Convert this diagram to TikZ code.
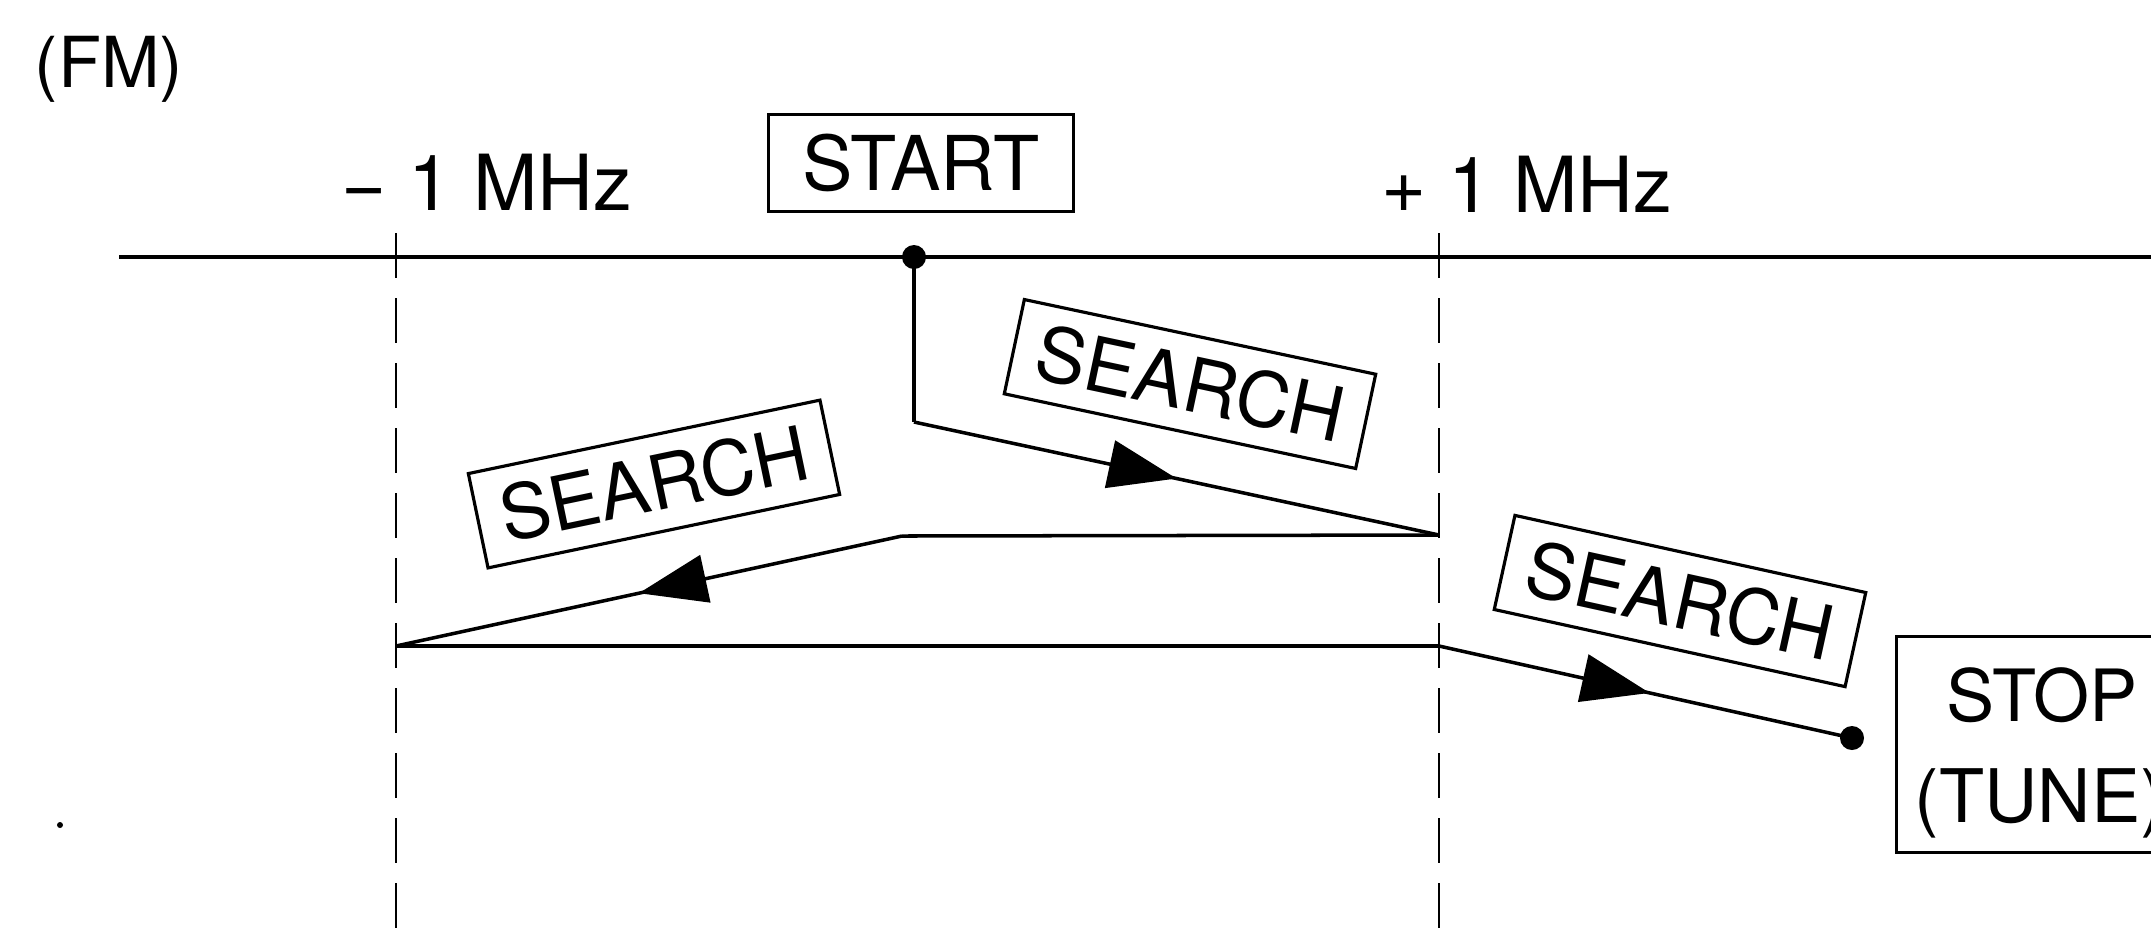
\documentclass[tikz,border=0pt]{standalone}
\usepackage{fontspec}
\setmainfont{TeX Gyre Heros}
\usetikzlibrary{arrows.meta,decorations.markings,calc}
\begin{document}
\begin{tikzpicture}[x=0.01cm,y=-0.01cm,
  line width=1pt,
  lbl/.style={font=\fontsize{22}{26}\selectfont, inner sep=0pt, text height=15.8pt, text depth=0pt},
  fmlbl/.style={font=\fontsize{20}{24}\selectfont, inner sep=0pt, text height=14.4pt, text depth=0pt},
  stoplbl/.style={inner sep=0pt, text height=15pt, text depth=0pt},
  boxlbl/.style={draw, line width=0.9pt, font=\fontsize{21.5}{26}\selectfont, inner xsep=3pt, inner ysep=6pt, text height=15.4pt, text depth=0pt},
  guide/.style={line width=0.8pt, dash pattern=on 0.45cm off 0.2cm},
  dotnode/.style={circle, fill, inner sep=0pt, minimum size=0.24cm},
  midarrow/.style={postaction={decorate}, decoration={markings, mark=at position #1 with {\arrow{Triangle[length=0.68cm,width=0.48cm]}}}}
]
\clip (0,0) rectangle (2151,941);
\fill[white] (0,0) rectangle (2151,941);

% labels
\node[fmlbl] (fm) at (109,62) {(FM)};
\node[lbl] (mlab) at (487,183) {− 1 MHz};
\node[lbl] (plab) at (1527,185) {+ 1 MHz};
\node[boxlbl, minimum width=3.05cm] (startbox) at (921,163) {START};

% axis and guides
\coordinate (axisL) at (119,257);
\coordinate (axisR) at (2151,257);
\draw[line width=1.1pt] (axisL) -- (axisR);
\coordinate (mtop) at (396,233);
\coordinate (mbot) at (396,941);
\coordinate (ptop) at (1439,233);
\coordinate (pbot) at (1439,941);
\draw[guide] (mtop) -- (mbot);
\draw[guide] (ptop) -- (pbot);

% path points
\node[dotnode] (start) at (914,257) {};
\coordinate (bend1) at (914,422);
\coordinate (p1) at (1439,535);
\coordinate (q1) at (902,536);
\coordinate (p2) at (396,646);
\coordinate (p3) at (1439,646);
\node[dotnode] (stop) at (1852,738) {};

\draw (start.center) -- (bend1);
\draw[midarrow=0.5] (bend1) -- (p1);
\draw (p1) -- (q1);
\draw[midarrow=0.52] (q1) -- (p2);
\draw (p2) -- (p3);
\draw[midarrow=0.51] (p3) -- (stop.center);

% search boxes
\node[boxlbl, minimum width=3.59cm, rotate=-12] (search1) at (1190,384) {SEARCH};
\node[boxlbl, minimum width=3.59cm, rotate=11.8] (search2) at (654,484) {SEARCH};
\node[boxlbl, minimum width=3.59cm, rotate=-12.4] (search3) at (1680,601) {SEARCH};

% stop box
\node[draw, line width=0.9pt, anchor=north west, minimum width=4cm, minimum height=2.16cm, inner sep=0pt] (stopbox) at (1895,635) {};
\node[stoplbl, font=\fontsize{20.5}{25}\selectfont] (stoptxt) at (2042,695) {STOP};
\node[stoplbl, font=\fontsize{21}{25}\selectfont] (tunetxt) at (2040,796) {(TUNE)};

% stray speck
\node[circle, fill, inner sep=0pt, minimum size=0.06cm] (speck) at (60,825) {};
\end{tikzpicture}
\end{document}
